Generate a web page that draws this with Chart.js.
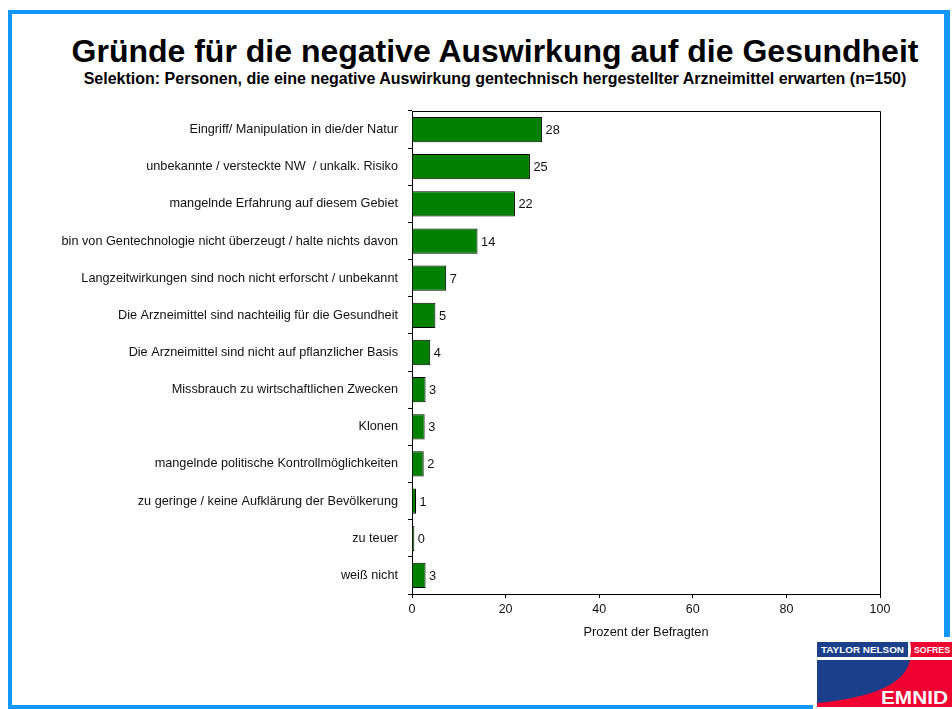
<!DOCTYPE html>
<html lang="de">
<head>
<meta charset="utf-8">
<title>Gründe für die negative Auswirkung auf die Gesundheit</title>
<script src="https://cdn.jsdelivr.net/npm/chart.js@4.4.1/dist/chart.umd.min.js"></script>
<style>
    html, body { margin: 0; padding: 0; background: #fff; }
    body { width: 952px; height: 709px; position: relative; overflow: hidden; font-family: "Liberation Sans", Arial, sans-serif; }
    .page-frame { position: absolute; left: 8px; top: 10px; width: 942px; height: 699px; box-sizing: border-box; border: 4px solid #1497fb; border-right-width: 6px; }
    .main-title { position: absolute; left: 0; width: 990px; top: 35px; text-align: center; font-weight: bold; font-size: 32px; line-height: 32px; color: #000; white-space: nowrap; }
    .sub-title { position: absolute; left: 0; width: 990px; top: 71px; text-align: center; font-weight: bold; font-size: 16px; line-height: 16px; color: #000; white-space: nowrap; }
    #reasons-chart { position: absolute; left: 0; top: 0; }
    .logo { position: absolute; left: 813px; top: 637px; }
</style>
</head>
<body>
<div class="page-frame"></div>
<div class="main-title">Gründe für die negative Auswirkung auf die Gesundheit</div>
<div class="sub-title">Selektion: Personen, die eine negative Auswirkung gentechnisch hergestellter Arzneimittel erwarten (n=150)</div>
<canvas id="reasons-chart" width="952" height="709"></canvas>
<svg class="logo" width="139" height="72" viewBox="0 0 139 72">
    <rect x="0" y="0" width="139" height="72" fill="#fff"/>
    <rect x="4" y="5" width="91" height="15" fill="#1b3f8b"/>
    <path d="M97,5 L139,5 L139,20 L97,20 Q99,12.5 97,5 Z" fill="#ee0030"/>
    <text x="8" y="16" fill="#fff" font-size="9" font-weight="bold" textLength="83" lengthAdjust="spacingAndGlyphs" font-family="Liberation Sans, Arial">TAYLOR NELSON</text>
    <text x="101" y="16" fill="#fff" font-size="9" font-weight="bold" textLength="36" lengthAdjust="spacingAndGlyphs" font-family="Liberation Sans, Arial">SOFRES</text>
    <rect x="4" y="23" width="135" height="47" fill="#ee0030"/>
    <path d="M4,23 L97,23 Q90,58 4,66 Z" fill="#1b3f8b"/>
    <text x="68" y="67" fill="#fff" font-size="18" font-weight="bold" textLength="67" lengthAdjust="spacingAndGlyphs" font-family="Liberation Sans, Arial">EMNID</text>
</svg>
<script>
    // reasons, top to bottom
    const reasonLabels = [
        'Eingriff/ Manipulation in die/der Natur',
        'unbekannte / versteckte NW  / unkalk. Risiko',
        'mangelnde Erfahrung auf diesem Gebiet',
        'bin von Gentechnologie nicht überzeugt / halte nichts davon',
        'Langzeitwirkungen sind noch nicht erforscht / unbekannt',
        'Die Arzneimittel sind nachteilig für die Gesundheit',
        'Die Arzneimittel sind nicht auf pflanzlicher Basis',
        'Missbrauch zu wirtschaftlichen Zwecken',
        'Klonen',
        'mangelnde politische Kontrollmöglichkeiten',
        'zu geringe / keine Aufklärung der Bevölkerung',
        'zu teuer',
        'weiß nicht'
    ];
    // bar lengths (percent)
    const reasonShares = [27.8, 25.2, 22.0, 14.0, 7.3, 5.0, 3.9, 2.9, 2.7, 2.5, 0.85, 0.5, 2.9];
    // printed value labels
    const reasonValueLabels = ['28', '25', '22', '14', '7', '5', '4', '3', '3', '2', '1', '0', '3'];
    // x axis
    const axisMin = 0;
    const axisMax = 100;
    const axisStep = 20;
    const axisTitle = 'Prozent der Befragten';

    const fontFamily = '"Liberation Sans", Arial, sans-serif';

    const reasonsChartPage = {
        init: function () {
            Chart.defaults.font.family = fontFamily;
            Chart.defaults.color = '#111';
            this.generateReasonsChart();
        },

        // frame on top/right of the plot area
        framePlugin: {
            id: 'plotFrame',
            afterDraw: function (chart) {
                const area = chart.chartArea;
                const ctx = chart.ctx;
                ctx.save();
                ctx.strokeStyle = '#000';
                ctx.lineWidth = 1;
                ctx.beginPath();
                ctx.moveTo(area.left, Math.round(area.top) + 0.5);
                ctx.lineTo(Math.round(area.right) + 0.5, Math.round(area.top) + 0.5);
                ctx.lineTo(Math.round(area.right) + 0.5, area.bottom);
                ctx.stroke();
                ctx.restore();
            }
        },

        valueLabelPlugin: {
            id: 'valueLabels',
            afterDatasetsDraw: function (chart) {
                const ctx = chart.ctx;
                const meta = chart.getDatasetMeta(0);
                ctx.save();
                ctx.font = '12.8px ' + fontFamily;
                ctx.fillStyle = '#111';
                ctx.textAlign = 'left';
                ctx.textBaseline = 'middle';
                meta.data.forEach((bar, index) => {
                    ctx.fillText(reasonValueLabels[index], bar.x + 3.5, bar.y + 1);
                });
                ctx.restore();
            }
        },

        generateReasonsChart: function () {
            const ctx = document.getElementById('reasons-chart').getContext('2d');
            new Chart(ctx, {
                type: 'bar',
                data: {
                    labels: reasonLabels,
                    datasets: [{
                        data: reasonShares,
                        backgroundColor: '#008000',
                        borderColor: '#000',
                        borderWidth: 1,
                        borderSkipped: 'start',
                        barPercentage: 0.68,
                        categoryPercentage: 1
                    }]
                },
                options: {
                    indexAxis: 'y',
                    responsive: false,
                    animation: false,
                    devicePixelRatio: 1,
                    layout: {
                        padding: { top: 111, right: 72, bottom: 69, left: 0 }
                    },
                    plugins: {
                        legend: { display: false },
                        tooltip: { enabled: false }
                    },
                    scales: {
                        x: {
                            type: 'linear',
                            min: axisMin,
                            max: axisMax,
                            ticks: {
                                stepSize: axisStep,
                                padding: 4,
                                maxRotation: 0,
                                color: '#111',
                                font: { size: 12.5 }
                            },
                            grid: {
                                display: true,
                                drawOnChartArea: false,
                                drawTicks: true,
                                tickLength: 4,
                                color: '#000'
                            },
                            border: { display: true, color: '#000', width: 1 },
                            title: {
                                display: true,
                                text: axisTitle,
                                color: '#111',
                                font: { size: 12.8 },
                                padding: 0
                            },
                            afterFit: function (scale) {
                                scale.height = 46;
                            }
                        },
                        y: {
                            type: 'category',
                            offset: true,
                            ticks: {
                                padding: 10,
                                autoSkip: false,
                                color: '#111',
                                font: { size: 12.7 }
                            },
                            grid: {
                                display: true,
                                offset: true,
                                drawOnChartArea: false,
                                drawTicks: true,
                                tickLength: 4,
                                color: '#000'
                            },
                            border: { display: true, color: '#000', width: 1 },
                            afterFit: function (scale) {
                                scale.width = 412;
                            }
                        }
                    }
                },
                plugins: [this.framePlugin, this.valueLabelPlugin]
            });
        }
    };

    reasonsChartPage.init();
</script>
</body>
</html>
